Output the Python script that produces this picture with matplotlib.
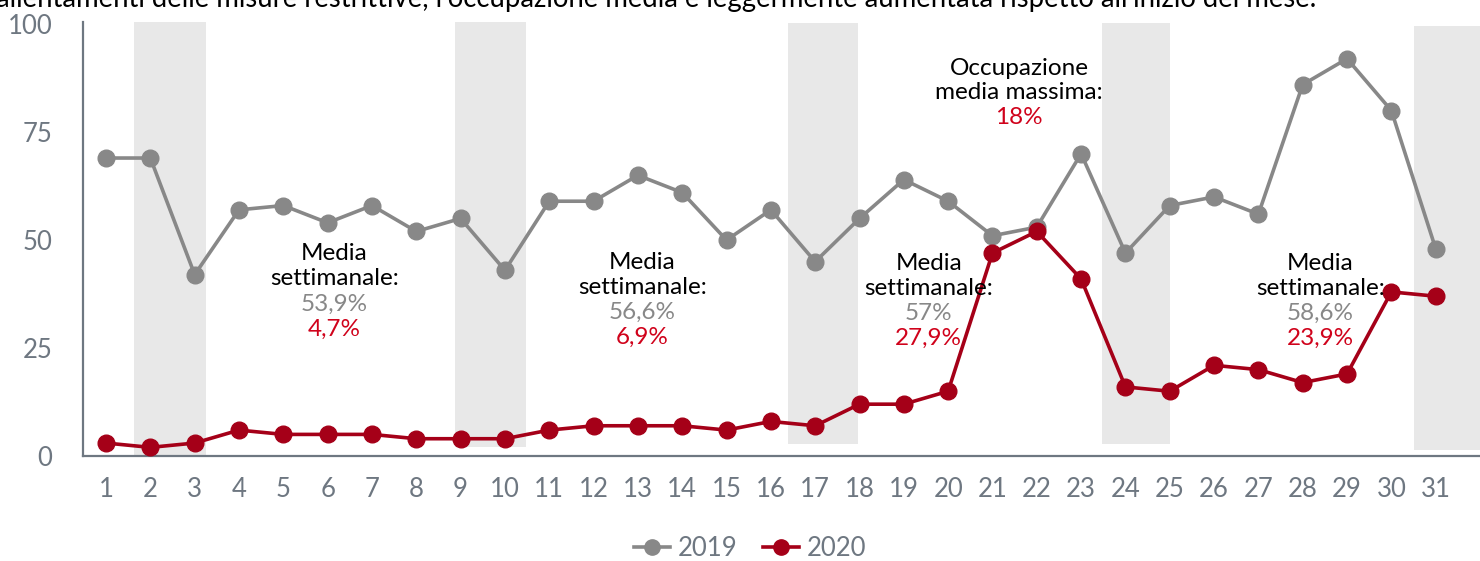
import numpy as np
import matplotlib.pyplot as plt
from matplotlib.lines import Line2D

plt.rcParams['font.family'] = ['Lato', 'DejaVu Sans']

# Data
days = list(range(1, 32))
occ_2019 = [69, 69, 42, 57, 58, 54, 58, 52, 55, 43, 59, 59, 65, 61, 50, 57, 45,
            55, 64, 59, 51, 53, 70, 47, 58, 60, 56, 86, 92, 80, 48]
occ_2020 = [3, 2, 3, 6, 5, 5, 5, 4, 4, 4, 6, 7, 7, 7, 6, 8, 7,
            12, 12, 15, 47, 52, 41, 16, 15, 21, 20, 17, 19, 38, 37]
# shaded weekends (x from, x to, y from, y to)
weekend_spans = [(1.63, 3.26, 0.2, 100.5), (8.87, 10.47, 2.1, 100.5),
                 (16.38, 17.96, 2.8, 100.3), (23.47, 25.0, 2.8, 100.3),
                 (30.5, 32.0, 1.4, 99.5)]
weekly_notes = [(6.15, '53,9%', '4,7%'), (13.1, '56,6%', '6,9%'),
                (19.56, '57%', '27,9%'), (28.4, '58,6%', '23,9%')]
note_top = [10, 16, 17, 17]  # first line offset below y=50, in points

gray = '#888888'
red = '#a50018'
red_txt = '#d0021b'
axis_col = '#6e7781'

fig = plt.figure(figsize=(14.8, 5.61), dpi=100)
ax = fig.add_axes([83 / 1480, 1 - 456 / 561, 1 - 83 / 1480, (456 - 22) / 561])

for x0, x1, y0, y1 in weekend_spans:
    ax.fill_between([x0, x1], y0, y1, color='#e8e8e8', lw=0, zorder=0)

ax.plot(days, occ_2019, color=gray, lw=2.6, marker='o', ms=12, zorder=3)
ax.plot(days, occ_2020, color=red, lw=2.6, marker='o', ms=12, zorder=3)

ax.set_xlim(0.48, 32.0)
ax.set_ylim(0, 100.5)
ax.set_xticks(days)
ax.set_yticks([0, 25, 50, 75, 100])
ax.tick_params(length=0, labelsize=18.5, colors=axis_col, pad=15)
ax.tick_params(axis='y', pad=22)
for s in ['top', 'right']:
    ax.spines[s].set_visible(False)
for s in ['left', 'bottom']:
    ax.spines[s].set_color(axis_col)
    ax.spines[s].set_linewidth(1.6)

fs = 17.5
step = 18
for (x, v19, v20), top in zip(weekly_notes, note_top):
    lines = [('Media', 'black'), ('settimanale:', 'black'), (v19, gray), (v20, red_txt)]
    for i, (txt, col) in enumerate(lines):
        ax.annotate(txt, (x, 50), xytext=(0, -top - step * i), textcoords='offset points',
                    ha='center', va='center', fontsize=fs, color=col)

peak_lines = [('Occupazione', 'black'), ('media massima:', 'black'), ('18%', red_txt)]
for i, (txt, col) in enumerate(peak_lines):
    ax.annotate(txt, (21.6, 100), xytext=(0, -32 - 17.5 * i), textcoords='offset points',
                ha='center', va='center', fontsize=fs, color=col)

fig.text(-0.003, 1 - 7 / 561,
         "allentamenti delle misure restrittive, l'occupazione media è leggermente "
         "aumentata rispetto all'inizio del mese.",
         ha='left', va='baseline', fontsize=19.8, color='black')

handles = [Line2D([], [], color=gray, lw=2.6, marker='o', ms=11),
           Line2D([], [], color=red, lw=2.6, marker='o', ms=11)]
leg = fig.legend(handles, ['2019', '2020'], loc='center', bbox_to_anchor=(0.507, 0.022),
                 ncol=2, frameon=False, fontsize=18.5, handlelength=1.4,
                 handletextpad=0.3, columnspacing=1.0)
for t in leg.get_texts():
    t.set_color(axis_col)

fig.savefig('out.png', dpi=100)
